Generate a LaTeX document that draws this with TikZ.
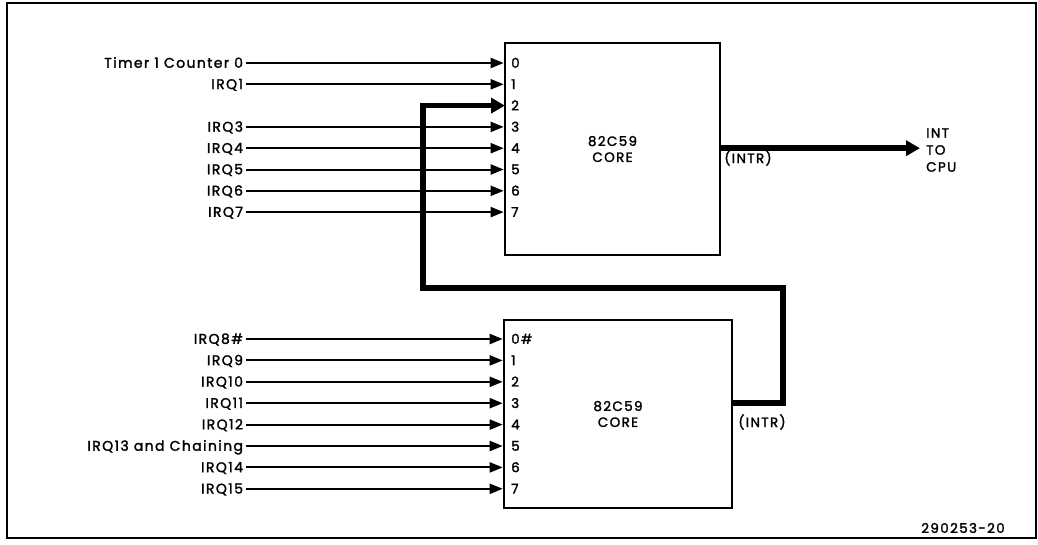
\documentclass[tikz,border=0pt]{standalone}
\usepackage{fontspec}
\setmainfont{Poppins}[LetterSpace=10,FakeBold=1.8]
\usetikzlibrary{arrows.meta,positioning,calc}

\begin{document}
\begin{tikzpicture}[x=1pt,y=-1pt,
    core/.style={draw,line width=2.6pt,minimum width=215pt,minimum height=212pt,
                 inner sep=0pt,align=center,font=\fontsize{13.5}{16}\selectfont},
    irq/.style={anchor=east,inner sep=0pt,outer xsep=3pt,text height=9.5pt,text depth=0pt,
                font=\fontsize{14}{15}\selectfont},
    pinlab/.style={anchor=west,inner sep=0pt,text height=9.5pt,text depth=0pt,
                   font=\fontsize{13.5}{15}\selectfont},
    note/.style={inner sep=0pt,font=\fontsize{13.5}{17}\selectfont},
    arr/.style={-{Triangle[length=13pt,width=10pt]},line width=2pt},
    bus/.style={-{Triangle[length=14pt,width=15pt]},line width=5.5pt,line join=miter}
  ]
    \useasboundingbox (0,0) rectangle (1038,544);
    \draw[line width=1.2pt] (7,3) rectangle (1036,538);
    % master and slave controllers
    \node[core] (core1) at (612.5,149) {82C59\\CORE};
    \node[core,minimum width=228pt,minimum height=188pt] (core2) at (618,414) {82C59\\CORE};
    \foreach \i in {0,...,7}
      \node[pinlab] (u\i) at (511,{63+21.3*\i}) {\i};
    \foreach \i/\l in {0/0\#,1/1,2/2,3/3,4/4,5/5,6/6,7/7}
      \node[pinlab] (v\i) at (511,{339+21.4*\i}) {\l};
    % request inputs
    \foreach \i/\t in {0/Timer 1 Counter 0,1/IRQ1,3/IRQ3,4/IRQ4,5/IRQ5,6/IRQ6,7/IRQ7}{
      \node[irq] (a\i) at (246,{63+21.3*\i}) {\t};
      \draw[arr] (a\i) -- (a\i -| core1.west);
    }
    \foreach \i/\t in {0/IRQ8\#,1/IRQ9,2/IRQ10,3/IRQ11,4/IRQ12,5/IRQ13 and Chaining,6/IRQ14,7/IRQ15}{
      \node[irq] (b\i) at (246,{339+21.4*\i}) {\t};
      \draw[arr] (b\i) -- (b\i -| core2.west);
    }
    % cascade into IR2
    \coordinate (o2) at (core2.east |- b3);
    \coordinate (ur) at (783,288);
    \coordinate (ul) at (423,288);
    \coordinate (p2) at (505,105.6);
    \draw[bus] (o2) -| (ur) -- (ul) |- (p2);
    % output to the processor
    \node[note,anchor=west,align=left,inner xsep=6pt] (cpu) at (920,150) {INT\\TO\\CPU};
    \coordinate (o1) at (core1.east |- a4);
    \draw[bus] (o1) -- (o1 -| cpu.west);
    \node[note] (intr1) at (748,158) {(INTR)};
    \node[note] (intr2) at (762,422) {(INTR)};
    \node[note] (fig) at (963,528) {290253-20};
\end{tikzpicture}
\end{document}
